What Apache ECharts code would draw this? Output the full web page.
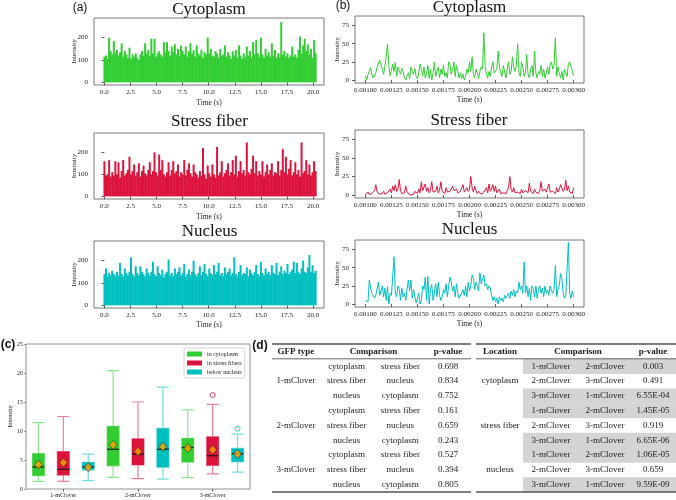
<!DOCTYPE html>
<html><head><meta charset="utf-8">
<script src="https://cdn.jsdelivr.net/npm/echarts@6/dist/echarts.min.js"></script>
<style>html,body{margin:0;padding:0;background:#fff}#chart{width:676px;height:500px}</style>
</head><body><div id="chart"></div>
<script>
// ================= DATA =================
// (a) long traces, one value per 0.15 s bin
const timeStepA = 0.15;
const cytoA = [115,120,105,200,140,125,185,130,145,120,
135,175,115,140,125,110,155,105,125,115,
130,110,100,125,140,120,175,130,145,120,
195,130,195,115,130,140,125,115,180,135,
180,140,120,160,135,170,125,150,120,165,
140,125,160,115,140,175,130,145,115,165,
130,120,145,110,135,125,200,130,150,120,
115,140,130,110,150,120,125,165,115,135,
120,105,140,120,145,110,165,120,105,130,
115,160,120,140,110,180,125,190,130,115,
200,125,110,150,120,135,115,175,120,145,
110,130,115,270,125,140,115,130,110,120,
160,115,125,110,145,205,130,165,195,140,
170,125,150,110,190,130];
const stressA = [160,95,100,165,90,110,95,160,100,155,
85,115,165,95,105,120,180,100,115,145,
95,110,150,90,115,140,105,95,120,155,
100,115,200,110,95,190,120,165,100,90,
110,155,95,120,160,105,115,145,90,110,
100,165,95,120,150,105,90,145,110,100,
85,115,95,220,100,80,140,105,90,145,
100,85,225,95,110,160,90,105,120,150,
95,110,165,100,185,90,115,160,105,120,
95,245,110,100,125,185,105,160,95,115,
100,160,90,110,145,100,120,150,95,110,
105,160,95,120,215,110,180,100,125,165,
95,110,155,100,120,90,245,105,115,165,
100,145,95,110,160,115];
const nucA = [140,165,130,145,135,155,140,130,150,135,
190,140,130,165,145,135,150,215,140,130,
175,145,135,175,150,140,130,165,145,135,
150,195,140,130,175,145,135,160,125,140,
150,205,135,145,130,165,140,150,170,135,
145,185,130,140,160,135,150,200,140,130,
145,175,135,150,185,140,130,165,145,135,
180,140,150,190,135,145,130,170,140,150,
165,135,145,215,140,130,150,180,135,145,
140,170,130,160,145,135,150,180,140,130,
195,145,135,165,140,150,135,180,145,140,
190,135,150,175,140,155,145,185,140,150,
160,195,145,190,150,140,165,200,150,145,
170,225,150,180,145,155];
// (b) zoomed traces, one value per 12.5 microseconds starting at 0.001 s
const timeStartB = 0.001;
const timeStepB = 0.0000125;
const cytoB = [6,0,8,12,17,8,3,2,10,18,
20,27,22,15,8,10,32,49,20,6,
8,22,12,24,5,18,20,8,16,12,
3,0,5,10,2,18,12,8,16,5,
2,10,22,15,6,18,3,8,20,2,
15,0,10,25,5,12,18,3,15,8,
20,5,10,3,25,22,8,14,25,5,
20,12,3,10,2,8,0,5,15,10,
25,12,32,8,3,15,10,2,12,18,
15,65,20,8,3,12,5,18,25,10,
8,15,40,18,10,5,20,12,3,15,
25,8,12,32,18,12,20,50,10,5,
25,18,5,10,35,8,3,15,20,5,
40,10,3,12,8,20,5,15,3,10,
18,8,22,25,15,20,58,5,18,10,
3,12,0,15,10,5,22,25,27,12,
6];
const stressB = [0,0,4,1,0,2,3,6,14,4,
2,1,0,2,5,1,0,3,4,8,
3,12,6,14,5,8,21,6,2,1,
3,12,5,2,1,0,2,1,5,3,
2,8,3,18,6,4,15,5,10,3,
6,18,4,2,5,12,3,6,18,5,
3,2,10,4,2,5,3,12,6,4,
8,3,2,5,6,14,4,3,10,5,
8,25,10,4,12,6,2,5,3,1,
2,4,5,10,3,15,5,8,14,5,
12,3,5,8,2,1,3,5,2,4,
10,25,8,4,10,3,2,4,5,2,
8,3,2,6,4,3,16,5,3,2,
8,4,3,2,6,18,5,3,8,4,
6,15,4,2,5,3,2,10,4,8,
14,15,5,8,20,6,12,4,3,2,
10];
const nucB = [5,7,3,33,22,15,12,8,12,10,
30,12,14,25,10,22,5,24,0,15,
12,14,65,15,10,25,20,5,22,10,
15,5,20,33,18,33,8,20,10,2,
0,15,0,5,25,20,37,5,38,0,
20,27,5,15,28,10,30,12,5,10,
20,15,28,10,25,37,30,18,25,10,
28,15,8,10,15,20,12,25,10,30,
18,25,40,35,20,30,25,18,43,28,
30,40,25,28,20,25,22,12,5,10,
3,8,0,10,5,8,3,12,8,10,
15,8,18,12,20,10,18,15,30,20,
25,15,58,15,25,10,22,5,25,20,
10,25,8,20,25,15,22,10,25,15,
20,12,25,18,15,20,53,10,20,25,
42,35,15,8,12,10,85,15,8,18,
10];
const tickAx = [0,2.5,5,7.5,10,12.5,15,17.5,20];
const tickAy = [0,100,200];
const tickBx = [0.001,0.00125,0.0015,0.00175,0.002,0.00225,0.0025,0.00275,0.003];
const tickBy = [0,25,50,75];
const panelTitles = ['Cytoplasm','Stress fiber','Nucleus'];

// (c) box plots: [min, Q1, median, Q3, max] per GFP type
const groups = ['1-mClover','2-mClover','3-mClover'];
const locNames = ['in cytoplasm','in stress fibers','below nucleus'];
const boxCyto   = [[1.3,2.3,3.8,6.1,11.45],[2.0,4.0,6.85,10.8,20.4],[1.95,4.65,7.15,8.75,13.65]];
const boxStress = [[1.3,2.4,3.4,6.45,12.5],[1.8,4.15,6.0,8.65,15.0],[2.6,4.05,5.75,9.0,14.6]];
const boxNuc    = [[1.45,3.3,3.8,4.6,6.0],[1.7,3.75,6.85,10.45,17.55],[2.9,4.7,6.1,7.0,9.45]];
const meanCyto = [4.2,7.6,7.05];
const meanStress = [4.55,6.45,6.75];
const meanNuc = [3.75,7.3,6.05];
const outliers = [[2,1,16.2],[2,2,10.4]]; // [group, location, value]

// (d) tables
const headersLeft = ['GFP type','Comparison','p-value'];
const gfpTypes = ['1-mClover','2-mClover','3-mClover'];
const locPairs = [['cytoplasm','stress fiber'],['stress fiber','nucleus'],['nucleus','cytoplasm']];
const pLeft = ['0.698','0.834','0.752','0.161','0.659','0.243','0.527','0.394','0.805'];
const headersRight = ['Location','Comparison','p-value'];
const tableLocations = ['cytoplasm','stress fiber','nucleus'];
const gfpPairs = [['1-mClover','2-mClover'],['2-mClover','3-mClover'],['3-mClover','1-mClover']];
const pRight = ['0.003','0.491','6.55E-04','1.45E-05','0.919','6.65E-06','1.06E-05','0.659','9.59E-09'];

// ================= STYLE / BUILD =================
const colors = ['#32CD32','#DC143C','#00BFBF'];
const lightColors = ['rgba(50,205,50,0.55)','rgba(220,20,60,0.55)','rgba(0,191,191,0.55)'];
const SERIF = '"Liberation Serif", "Times New Roman", serif';
const SANS = '"Liberation Sans", Arial, sans-serif';
const txt = {fontFamily: SERIF, color: '#222'};

const gridsPx = [
  {left:94, top:18, width:230, height:67},
  {left:94, top:133, width:230, height:66},
  {left:94, top:241, width:230, height:67},
  {left:355, top:16, width:229, height:67},
  {left:355, top:130, width:229, height:68},
  {left:355, top:240, width:229, height:67},
  {left:26, top:344, width:224, height:145},
  {left:272, top:344, width:199, height:148},
  {left:476, top:344, width:200, height:148}
];
const grid = gridsPx.map((g, i) => Object.assign({
  show: i <= 6, borderColor: i === 6 ? '#777' : '#555', borderWidth: 0.8,
  backgroundColor: 'transparent', containLabel: false, outerBoundsMode: 'none'
}, g));

function valueX(gi, min, max, ticks, dec, margin, nameGap) {
  return {type:'value', gridIndex:gi, min, max, position:'bottom',
    name:'Time (s)', nameLocation:'middle', nameGap, nameMoveOverlap:false,
    nameTextStyle:Object.assign({fontSize:7.5}, txt),
    axisLine:{show:false}, splitLine:{show:false},
    axisTick:{show:true, length:3, customValues:ticks, lineStyle:{color:'#333', width:0.8}},
    axisLabel:Object.assign({customValues:ticks, formatter:v => Number(v).toFixed(dec), margin, fontSize:7}, txt)};
}
function valueY(gi, min, max, ticks, nameGap, fontSize, margin) {
  return {type:'value', gridIndex:gi, min, max, position:'left',
    name:'Intensity', nameLocation:'middle', nameGap, nameMoveOverlap:false,
    nameTextStyle:Object.assign({fontSize}, txt),
    axisLine:{show:false}, splitLine:{show:false},
    axisTick:{show:true, length:3, customValues:ticks, lineStyle:{color:'#333', width:0.8}},
    axisLabel:Object.assign({customValues:ticks, margin, fontSize}, txt)};
}

const xAxis = [
  valueX(0, -1.0, 21.05, tickAx, 1, 4, 14),
  valueX(1, -1.0, 21.05, tickAx, 1, 4, 14),
  valueX(2, -1.0, 21.05, tickAx, 1, 4, 13),
  valueX(3, 0.0009, 0.0031, tickBx, 5, 3.5, 13),
  valueX(4, 0.0009, 0.0031, tickBx, 5, 3.5, 13),
  valueX(5, 0.0009, 0.0031, tickBx, 5, 3.5, 13)
];
const yAxis = [
  valueY(0, -12, 288, tickAy, 16, 7, 6),
  valueY(1, -12, 288, tickAy, 16, 7, 6),
  valueY(2, -12, 288, tickAy, 16, 7, 6),
  valueY(3, -4, 88, tickBy, 14.5, 7, 6),
  valueY(4, -4, 88, tickBy, 14.5, 7, 6),
  valueY(5, -4, 88, tickBy, 14.5, 7, 6)
];

// (c) slots: 3 boxes per GFP type
const boxStats = [boxCyto, boxStress, boxNuc];
const means = [meanCyto, meanStress, meanNuc];
const slotNames = [], boxData = [], medianData = [], meanData = [];
groups.forEach((g, gi) => locNames.forEach((l, li) => {
  const s = gi * 3 + li;
  slotNames.push(g + ' / ' + l);
  const st = boxStats[li][gi];
  boxData.push({value: st, itemStyle: {color: colors[li], borderColor: lightColors[li], borderWidth: 1.2}});
  medianData.push([s, st[2]]);
  meanData.push([s, means[li][gi]]);
}));
const outlierData = outliers.map(o => ({value: [o[0] * 3 + o[1], o[2]],
  itemStyle: {color: '#fff', borderColor: colors[o[1]], borderWidth: 1}}));

// xAxis 6: slots (hidden), xAxis 7: group labels — both on grid 6
xAxis.push({type:'category', gridIndex:6, data:slotNames, show:false, position:'bottom'});
xAxis.push({type:'category', gridIndex:6, data:groups, position:'bottom',
  axisLine:{show:false}, splitLine:{show:false},
  axisTick:{show:true, alignWithLabel:true, length:2.5, lineStyle:{color:'#333', width:0.8}},
  axisLabel:Object.assign({fontSize:6, margin:3, interval:0}, txt)});
// yAxis 6 on grid 6
yAxis.push({type:'value', gridIndex:6, min:0, max:25, interval:5, position:'left',
  name:'Intensity', nameLocation:'middle', nameGap:12.5, nameMoveOverlap:false,
  nameTextStyle:Object.assign({fontSize:6.5}, txt),
  axisLine:{show:false}, splitLine:{show:false},
  axisTick:{show:true, length:2, lineStyle:{color:'#555', width:0.6}},
  axisLabel:Object.assign({fontSize:6, margin:3}, txt)});

// (d) table axes: x = fraction of table width, y = row index (0 header, 1..9 data)
// grid 7 -> xAxis 8 / yAxis 7 ; grid 8 -> xAxis 9 / yAxis 8
[7, 8].forEach(gi => {
  xAxis.push({type:'value', gridIndex:gi, min:0, max:1, show:false});
  yAxis.push({type:'value', gridIndex:gi, min:0, max:10, inverse:true, show:false});
});
const TL = {x: 8, y: 7}, TR = {x: 9, y: 8};
const colX = [0.12, 0.375, 0.645, 0.885];
const comparisonX = 0.51;
function buildCells(headers, firstCol, pairs, pvals) {
  const cells = [];
  cells.push({x: colX[0], y: 0.5, text: headers[0], bold: true});
  cells.push({x: comparisonX, y: 0.5, text: headers[1], bold: true});
  cells.push({x: colX[3], y: 0.5, text: headers[2], bold: true});
  pvals.forEach((p, r) => {
    const y = r + 1.5;
    if (r % 3 === 1) cells.push({x: colX[0], y, text: firstCol[Math.floor(r / 3)]});
    cells.push({x: colX[1], y, text: pairs[r % 3][0]});
    cells.push({x: colX[2], y, text: pairs[r % 3][1]});
    cells.push({x: colX[3], y, text: p});
  });
  return cells;
}
const cellsLeft = buildCells(headersLeft, gfpTypes, locPairs, pLeft);
const cellsRight = buildCells(headersRight, tableLocations, gfpPairs, pRight);

function toPx(params, api, fx, row) {
  if (api && typeof api.coord === 'function') return api.coord([fx, row]);
  const cs = params.coordSys;
  return [cs.x + fx * cs.width, cs.y + row / 10 * cs.height];
}
function cellSeries(cells, ax) {
  return {type:'custom', coordinateSystem:'cartesian2d', xAxisIndex:ax.x, yAxisIndex:ax.y, z:5,
    encode:{x:0, y:1}, silent:true,
    data: cells.map((c, i) => [c.x, c.y, i]),
    renderItem: (params, api) => {
      const c = cells[params.dataIndex];
      const pt = toPx(params, api, c.x, c.y);
      return {type:'text', x: pt[0], y: pt[1], style:{text: c.text, fill:'#1a1a1a',
        font: (c.bold ? 'bold ' : '') + '9px ' + SERIF,
        align:'center', verticalAlign:'middle', textAlign:'center', textVerticalAlign:'middle'}};
    }};
}
const ruleRows = [[0, 1.6], [1, 0.9], [10, 1.6]];
function ruleSeries(ax) {
  return {type:'custom', coordinateSystem:'cartesian2d', xAxisIndex:ax.x, yAxisIndex:ax.y, z:4, silent:true,
    encode:{x:0, y:1},
    data: ruleRows.map(r => [0, r[0]]),
    renderItem: (params, api) => {
      const r = ruleRows[params.dataIndex];
      const a = toPx(params, api, 0, r[0]);
      const b = toPx(params, api, 1, r[0]);
      return {type:'line', shape:{x1:a[0], y1:a[1], x2:b[0], y2:b[1]},
        style:{stroke:'#555', lineWidth: r[1]}};
    }};
}
const shadedRows = [];
pRight.forEach((p, r) => { if (parseFloat(p) < 0.05) shadedRows.push(r + 1); });
const shadeSeries = {type:'custom', coordinateSystem:'cartesian2d', xAxisIndex:TR.x, yAxisIndex:TR.y, z:2, silent:true,
  encode:{x:0, y:1}, data: shadedRows.map(r => [0.235, r]),
  renderItem: (params, api) => {
    const row = shadedRows[params.dataIndex];
    const a = toPx(params, api, 0.235, row);
    const b = toPx(params, api, 1, row + 1);
    return {type:'rect', shape:{x:a[0], y:Math.min(a[1], b[1]), width:b[0] - a[0], height:Math.abs(b[1] - a[1]) + 0.3},
      style:{fill:'#d4d4d4'}};
  }};

const tracesA = [cytoA, stressA, nucA];
const tracesB = [cytoB, stressB, nucB];
const series = [];
tracesA.forEach((arr, i) => series.push({type:'bar', xAxisIndex:i, yAxisIndex:i, barWidth:2, silent:true,
  data: arr.map((v, k) => [k * timeStepA, v]), itemStyle:{color: colors[i]}}));
tracesB.forEach((arr, i) => series.push({type:'line', xAxisIndex:3 + i, yAxisIndex:3 + i, silent:true,
  showSymbol:false, symbol:'none',
  data: arr.map((v, k) => [timeStartB + k * timeStepB, v]),
  lineStyle:{color: colors[i], width:1}, itemStyle:{color: colors[i]}}));
series.push({type:'boxplot', xAxisIndex:6, yAxisIndex:6, boxWidth:[12, 12], silent:true, data: boxData});
series.push({type:'scatter', xAxisIndex:6, yAxisIndex:6, symbol:'rect', symbolSize:[12, 1.4], z:4, silent:true,
  data: medianData, itemStyle:{color:'#111'}});
series.push({type:'scatter', xAxisIndex:6, yAxisIndex:6, symbol:'diamond', symbolSize:[8, 9], z:5, silent:true,
  data: meanData, itemStyle:{color:'#FFA500', borderColor:'#222', borderWidth:0.7}});
series.push({type:'scatter', xAxisIndex:6, yAxisIndex:6, symbol:'circle', symbolSize:5, z:5, silent:true,
  data: outlierData});
locNames.forEach((l, i) => series.push({type:'bar', name:l, xAxisIndex:7, yAxisIndex:6, data:[], itemStyle:{color: colors[i]}}));
series.push(shadeSeries, ruleSeries(TL), ruleSeries(TR), cellSeries(cellsLeft, TL), cellSeries(cellsRight, TR));

function label(text, x, y, font) {
  return {type:'text', x, y, silent:true, style:{text, font, fill:'#111',
    align:'center', verticalAlign:'middle', textAlign:'center', textVerticalAlign:'middle'}};
}
const graphic = [
  label('(a)', 80, 8, '12px ' + SANS),
  label('(b)', 343, 6, '12px ' + SANS),
  label('(c)', 8, 345, 'bold 12px ' + SANS),
  label('(d)', 260, 346, 'bold 12px ' + SANS),
  label(panelTitles[0], 209, 10, '17px ' + SERIF),
  label(panelTitles[1], 209.5, 122, '17px ' + SERIF),
  label(panelTitles[2], 209.5, 232, '17px ' + SERIF),
  label(panelTitles[0], 469.5, 8, '17px ' + SERIF),
  label(panelTitles[1], 469, 120.5, '17px ' + SERIF),
  label(panelTitles[2], 469.5, 230, '17px ' + SERIF)
];

const chart = echarts.init(document.getElementById('chart'), null, {renderer:'canvas'});
chart.setOption({
  animation:false,
  backgroundColor:'#fff',
  grid, xAxis, yAxis, series, graphic,
  legend:{data: locNames, orient:'vertical', left:184, top:348, icon:'rect',
    itemWidth:15, itemHeight:5, itemGap:3, selectedMode:false,
    textStyle:Object.assign({fontSize:6}, txt),
    borderColor:'#ccc', borderWidth:0.8, borderRadius:2, padding:[3,3,3,3], backgroundColor:'#fff'}
});
</script></body></html>
